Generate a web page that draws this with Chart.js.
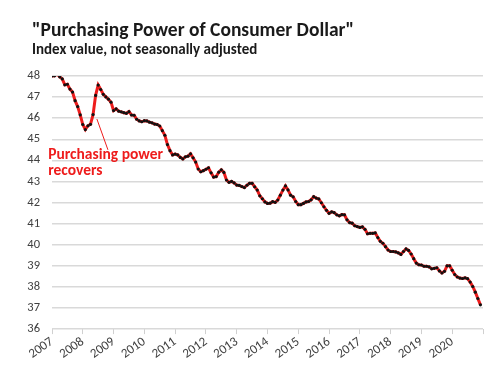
<!DOCTYPE html>
<html>
<head>
<meta charset="utf-8">
<script src="https://cdn.jsdelivr.net/npm/chart.js@4/dist/chart.umd.min.js"></script>
<style>
  html, body { margin: 0; padding: 0; background: #fff; }
  #wrap { width: 499px; height: 366px; }
</style>
</head>
<body>
<div id="wrap"><canvas id="myChart" width="499" height="366"></canvas></div>
<script>
// monthly index, Jun 2007 .. May 2021
const years = ["2007", "2008", "2009", "2010", "2011", "2012", "2013",
  "2014", "2015", "2016", "2017", "2018", "2019", "2020"];
const values = [
  48.00, 48.01, 48.10, 47.96, 47.86, 47.58, 47.61,
  47.38, 47.24, 46.83, 46.55, 46.16, 45.70, 45.46, 45.64, 45.71, 46.17, 47.08, 47.57,
  47.36, 47.13, 47.01, 46.90, 46.76, 46.36, 46.44, 46.33, 46.30, 46.26, 46.23, 46.31,
  46.15, 46.14, 45.95, 45.87, 45.83, 45.88, 45.87, 45.81, 45.78, 45.72, 45.70, 45.63,
  45.41, 45.19, 44.75, 44.46, 44.26, 44.30, 44.26, 44.14, 44.07, 44.17, 44.20, 44.31,
  44.12, 43.92, 43.59, 43.46, 43.51, 43.58, 43.65, 43.41, 43.21, 43.23, 43.44, 43.55,
  43.43, 43.07, 42.96, 43.00, 42.93, 42.83, 42.81, 42.76, 42.71, 42.82, 42.91, 42.91,
  42.75, 42.59, 42.32, 42.18, 42.03, 41.96, 41.97, 42.04, 42.01, 42.12, 42.35, 42.59,
  42.79, 42.60, 42.35, 42.27, 42.05, 41.90, 41.90, 41.96, 42.03, 42.05, 42.13, 42.28,
  42.21, 42.17, 41.99, 41.80, 41.63, 41.49, 41.56, 41.52, 41.42, 41.37, 41.43, 41.42,
  41.18, 41.05, 41.02, 40.90, 40.86, 40.82, 40.85, 40.73, 40.52, 40.54, 40.54, 40.56,
  40.34, 40.16, 40.07, 39.91, 39.75, 39.68, 39.68, 39.66, 39.61, 39.54, 39.68, 39.80,
  39.73, 39.56, 39.34, 39.13, 39.05, 39.04, 38.98, 38.98, 38.95, 38.86, 38.88, 38.91,
  38.76, 38.66, 38.74, 39.00, 39.00, 38.79, 38.59, 38.47, 38.42, 38.40, 38.43, 38.39,
  38.23, 38.02, 37.75, 37.45, 37.15
];
const titleText = '"Purchasing Power of Consumer Dollar"';
const subtitleText = "Index value, not seasonally adjusted";
const noteLines = ["Purchasing power", "recovers"];

const RED = "#ee1c1c";
const FONT = "Carlito, Lato, 'Open Sans', sans-serif";

// headings sit a little right of the tick labels, like the original
const headPlugin = {
  id: "head",
  afterDraw(chart) {
    const ctx = chart.ctx;
    ctx.save();
    ctx.fillStyle = "#1a1a1a";
    ctx.textAlign = "left";
    ctx.textBaseline = "alphabetic";
    ctx.font = "bold 19.5px " + FONT;
    ctx.fillText(titleText, 32, 36);
    ctx.font = "bold 15px " + FONT;
    ctx.fillText(subtitleText, 32, 54);
    ctx.restore();
  }
};

const notePlugin = {
  id: "note",
  afterDatasetsDraw(chart) {
    const ctx = chart.ctx;
    const xs = chart.scales.x, ys = chart.scales.y;
    ctx.save();
    ctx.strokeStyle = RED;
    ctx.lineWidth = 1;
    ctx.beginPath();
    ctx.moveTo(xs.getPixelForValue(17.5), ys.getPixelForValue(45.96));
    ctx.lineTo(xs.getPixelForValue(21.8), ys.getPixelForValue(44.5));
    ctx.stroke();
    ctx.fillStyle = RED;
    ctx.font = "bold 15.5px " + FONT;
    ctx.textAlign = "left";
    ctx.textBaseline = "alphabetic";
    ctx.fillText(noteLines[0], xs.getPixelForValue(-1.5), ys.getPixelForValue(44.07));
    ctx.fillText(noteLines[1], xs.getPixelForValue(-1.5), ys.getPixelForValue(43.31));
    ctx.restore();
  }
};

new Chart(document.getElementById("myChart"), {
  type: "line",
  data: {
    datasets: [{
      data: values.map((v, i) => ({ x: i, y: v })),
      borderColor: RED,
      borderWidth: 3,
      pointRadius: 1.6,
      pointBackgroundColor: "#111",
      pointBorderColor: "#111",
      pointBorderWidth: 0,
      tension: 0
    }]
  },
  options: {
    responsive: false,
    animation: false,
    layout: { padding: { left: 26, right: 16, top: 76, bottom: 4 } },
    plugins: {
      legend: { display: false },
      tooltip: { enabled: false },
      title: { display: false }
    },
    scales: {
      x: {
        type: "linear",
        min: 0,
        max: 168,
        grid: { drawOnChartArea: false, drawTicks: true, tickLength: 5, color: "#d0d0d0", lineWidth: 1 },
        border: { display: false },
        ticks: {
          stepSize: 12,
          autoSkip: false,
          minRotation: 35,
          maxRotation: 35,
          padding: 0,
          color: "#404040",
          font: { family: FONT, size: 13 },
          callback: (v) => years[v / 12] || ""
        }
      },
      y: {
        min: 36,
        max: 48,
        afterFit: (scale) => { scale.width = 26; },
        grid: { color: "#d9d9d9", lineWidth: 1.5, drawTicks: false },
        border: { display: false },
        ticks: {
          stepSize: 1,
          padding: 12,
          color: "#404040",
          font: { family: FONT, size: 12.5 }
        }
      }
    }
  },
  plugins: [notePlugin, headPlugin]
});
</script>
</body>
</html>
